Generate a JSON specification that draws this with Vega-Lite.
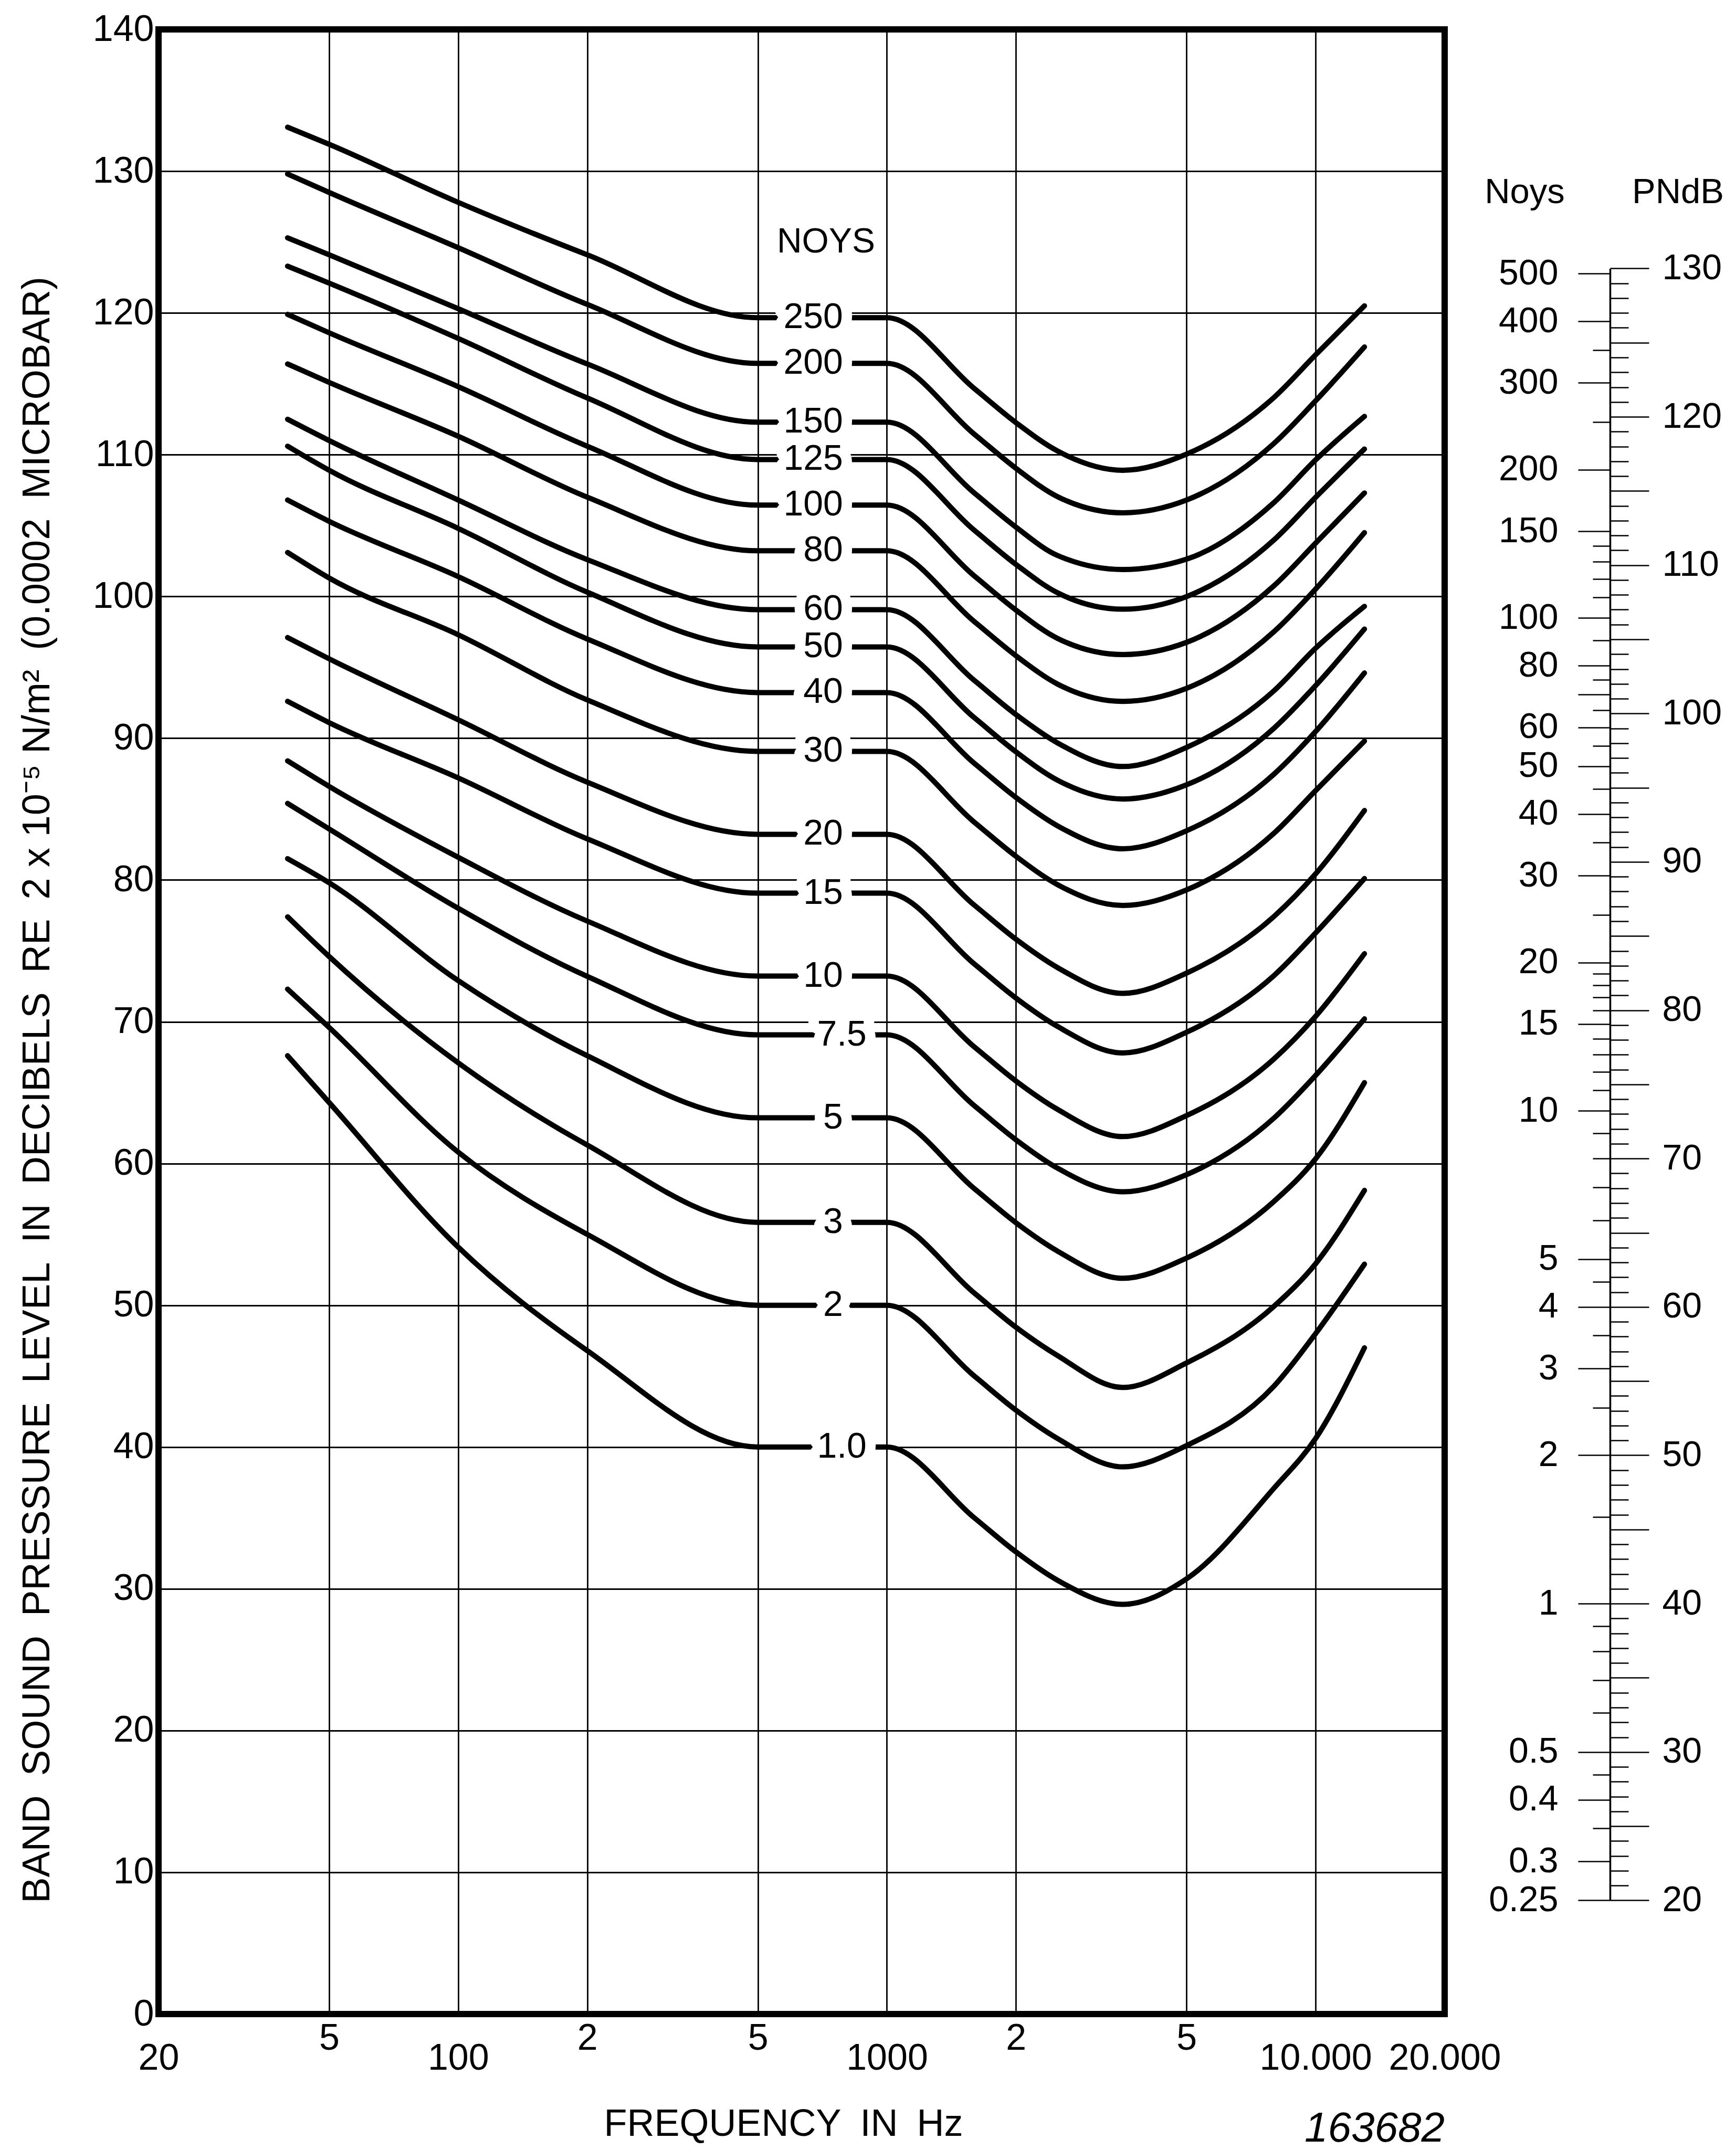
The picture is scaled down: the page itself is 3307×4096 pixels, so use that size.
{
  "$schema": "https://vega.github.io/schema/vega-lite/v6.json",
  "width": 2450,
  "height": 3781,
  "autosize": {"type": "none"},
  "padding": {"left": 302, "top": 56, "right": 555, "bottom": 259},
  "background": "white",
  "datasets": {
    "curves": [
      {"n":"250","f":40,"db":133.1},{"n":"250","f":50,"db":131.9},{"n":"250","f":100,"db":127.8},{"n":"250","f":200,"db":124.1},{"n":"250","f":500,"db":119.66},{"n":"250","f":1000,"db":119.66},{"n":"250","f":1600,"db":114.66},{"n":"250","f":2000,"db":112.26},{"n":"250","f":2500,"db":110.26},{"n":"250","f":3550,"db":108.9},{"n":"250","f":5000,"db":110.04},{"n":"250","f":8000,"db":114.04},{"n":"250","f":10000,"db":117.04},{"n":"250","f":13000,"db":120.5},
      {"n":"200","f":40,"db":129.8},{"n":"200","f":50,"db":128.5},{"n":"200","f":100,"db":124.6},{"n":"200","f":200,"db":120.6},{"n":"200","f":500,"db":116.44},{"n":"200","f":1000,"db":116.44},{"n":"200","f":1600,"db":111.44},{"n":"200","f":2000,"db":109.04},{"n":"200","f":2500,"db":107.04},{"n":"200","f":3550,"db":105.9},{"n":"200","f":5000,"db":106.8},{"n":"200","f":8000,"db":110.8},{"n":"200","f":10000,"db":113.8},{"n":"200","f":13000,"db":117.6},
      {"n":"150","f":40,"db":125.3},{"n":"150","f":50,"db":124.1},{"n":"150","f":100,"db":120.3},{"n":"150","f":200,"db":116.4},{"n":"150","f":500,"db":112.29},{"n":"150","f":1000,"db":112.29},{"n":"150","f":1600,"db":107.29},{"n":"150","f":2000,"db":104.89},{"n":"150","f":2500,"db":102.89},{"n":"150","f":3550,"db":101.9},{"n":"150","f":5000,"db":102.63},{"n":"150","f":8000,"db":106.63},{"n":"150","f":10000,"db":109.63},{"n":"150","f":13000,"db":112.7},
      {"n":"125","f":40,"db":123.3},{"n":"125","f":50,"db":122.1},{"n":"125","f":100,"db":118.2},{"n":"125","f":200,"db":114.0},{"n":"125","f":500,"db":109.66},{"n":"125","f":1000,"db":109.66},{"n":"125","f":1600,"db":104.66},{"n":"125","f":2000,"db":102.26},{"n":"125","f":2500,"db":100.26},{"n":"125","f":3550,"db":99.1},{"n":"125","f":5000,"db":99.99},{"n":"125","f":8000,"db":103.99},{"n":"125","f":10000,"db":106.99},{"n":"125","f":13000,"db":110.4},
      {"n":"100","f":40,"db":119.9},{"n":"100","f":50,"db":118.6},{"n":"100","f":100,"db":114.8},{"n":"100","f":200,"db":110.6},{"n":"100","f":500,"db":106.44},{"n":"100","f":1000,"db":106.44},{"n":"100","f":1600,"db":101.44},{"n":"100","f":2000,"db":99.04},{"n":"100","f":2500,"db":97.04},{"n":"100","f":3550,"db":95.9},{"n":"100","f":5000,"db":96.76},{"n":"100","f":8000,"db":100.76},{"n":"100","f":10000,"db":103.76},{"n":"100","f":13000,"db":107.3},
      {"n":"80","f":40,"db":116.4},{"n":"80","f":50,"db":115.1},{"n":"80","f":100,"db":111.3},{"n":"80","f":200,"db":107.0},{"n":"80","f":500,"db":103.22},{"n":"80","f":1000,"db":103.22},{"n":"80","f":1600,"db":98.22},{"n":"80","f":2000,"db":95.82},{"n":"80","f":2500,"db":93.82},{"n":"80","f":3550,"db":92.6},{"n":"80","f":5000,"db":93.52},{"n":"80","f":8000,"db":97.52},{"n":"80","f":10000,"db":100.52},{"n":"80","f":13000,"db":104.5},
      {"n":"60","f":40,"db":112.5},{"n":"60","f":50,"db":111.0},{"n":"60","f":100,"db":106.8},{"n":"60","f":200,"db":102.6},{"n":"60","f":500,"db":99.07},{"n":"60","f":1000,"db":99.07},{"n":"60","f":1600,"db":94.07},{"n":"60","f":2000,"db":91.67},{"n":"60","f":2500,"db":89.67},{"n":"60","f":3550,"db":88.0},{"n":"60","f":5000,"db":89.35},{"n":"60","f":8000,"db":93.35},{"n":"60","f":10000,"db":96.35},{"n":"60","f":13000,"db":99.3},
      {"n":"50","f":40,"db":110.6},{"n":"50","f":50,"db":108.9},{"n":"50","f":100,"db":104.8},{"n":"50","f":200,"db":100.3},{"n":"50","f":500,"db":96.44},{"n":"50","f":1000,"db":96.44},{"n":"50","f":1600,"db":91.44},{"n":"50","f":2000,"db":89.04},{"n":"50","f":2500,"db":87.04},{"n":"50","f":3550,"db":85.71},{"n":"50","f":5000,"db":86.71},{"n":"50","f":8000,"db":90.71},{"n":"50","f":10000,"db":93.71},{"n":"50","f":13000,"db":97.7},
      {"n":"40","f":40,"db":106.8},{"n":"40","f":50,"db":105.3},{"n":"40","f":100,"db":101.4},{"n":"40","f":200,"db":97.0},{"n":"40","f":500,"db":93.22},{"n":"40","f":1000,"db":93.22},{"n":"40","f":1600,"db":88.22},{"n":"40","f":2000,"db":85.82},{"n":"40","f":2500,"db":83.82},{"n":"40","f":3550,"db":82.2},{"n":"40","f":5000,"db":83.47},{"n":"40","f":8000,"db":87.47},{"n":"40","f":10000,"db":90.47},{"n":"40","f":13000,"db":94.6},
      {"n":"30","f":40,"db":103.1},{"n":"30","f":50,"db":101.3},{"n":"30","f":100,"db":97.3},{"n":"30","f":200,"db":92.7},{"n":"30","f":500,"db":89.07},{"n":"30","f":1000,"db":89.07},{"n":"30","f":1600,"db":84.07},{"n":"30","f":2000,"db":81.67},{"n":"30","f":2500,"db":79.67},{"n":"30","f":3550,"db":78.2},{"n":"30","f":5000,"db":79.3},{"n":"30","f":8000,"db":83.3},{"n":"30","f":10000,"db":86.3},{"n":"30","f":13000,"db":89.8},
      {"n":"20","f":40,"db":97.1},{"n":"20","f":50,"db":95.6},{"n":"20","f":100,"db":91.3},{"n":"20","f":200,"db":86.9},{"n":"20","f":500,"db":83.22},{"n":"20","f":1000,"db":83.22},{"n":"20","f":1600,"db":78.22},{"n":"20","f":2000,"db":75.82},{"n":"20","f":2500,"db":73.82},{"n":"20","f":3550,"db":72.0},{"n":"20","f":5000,"db":73.43},{"n":"20","f":8000,"db":77.43},{"n":"20","f":10000,"db":80.43},{"n":"20","f":13000,"db":84.9},
      {"n":"15","f":40,"db":92.6},{"n":"15","f":50,"db":91.1},{"n":"15","f":100,"db":87.2},{"n":"15","f":200,"db":82.9},{"n":"15","f":500,"db":79.07},{"n":"15","f":1000,"db":79.07},{"n":"15","f":1600,"db":74.07},{"n":"15","f":2000,"db":71.67},{"n":"15","f":2500,"db":69.67},{"n":"15","f":3550,"db":67.8},{"n":"15","f":5000,"db":69.26},{"n":"15","f":8000,"db":73.26},{"n":"15","f":10000,"db":76.26},{"n":"15","f":13000,"db":80.1},
      {"n":"10","f":40,"db":88.4},{"n":"10","f":50,"db":86.6},{"n":"10","f":100,"db":81.6},{"n":"10","f":200,"db":77.1},{"n":"10","f":500,"db":73.22},{"n":"10","f":1000,"db":73.22},{"n":"10","f":1600,"db":68.22},{"n":"10","f":2000,"db":65.82},{"n":"10","f":2500,"db":63.82},{"n":"10","f":3550,"db":61.9},{"n":"10","f":5000,"db":63.38},{"n":"10","f":8000,"db":67.38},{"n":"10","f":10000,"db":70.38},{"n":"10","f":13000,"db":74.8},
      {"n":"7.5","f":40,"db":85.4},{"n":"7.5","f":50,"db":83.6},{"n":"7.5","f":100,"db":78.0},{"n":"7.5","f":200,"db":73.2},{"n":"7.5","f":500,"db":69.07},{"n":"7.5","f":1000,"db":69.07},{"n":"7.5","f":1600,"db":64.07},{"n":"7.5","f":2000,"db":61.67},{"n":"7.5","f":2500,"db":59.67},{"n":"7.5","f":3550,"db":58.0},{"n":"7.5","f":5000,"db":59.21},{"n":"7.5","f":8000,"db":63.21},{"n":"7.5","f":10000,"db":66.21},{"n":"7.5","f":13000,"db":70.2},
      {"n":"5","f":40,"db":81.5},{"n":"5","f":50,"db":79.8},{"n":"5","f":100,"db":72.9},{"n":"5","f":200,"db":67.6},{"n":"5","f":500,"db":63.22},{"n":"5","f":1000,"db":63.22},{"n":"5","f":1600,"db":58.22},{"n":"5","f":2000,"db":55.82},{"n":"5","f":2500,"db":53.82},{"n":"5","f":3550,"db":51.9},{"n":"5","f":5000,"db":53.33},{"n":"5","f":8000,"db":57.33},{"n":"5","f":10000,"db":60.33},{"n":"5","f":13000,"db":65.7},
      {"n":"3","f":40,"db":77.4},{"n":"3","f":50,"db":74.6},{"n":"3","f":100,"db":67.1},{"n":"3","f":200,"db":61.3},{"n":"3","f":500,"db":55.85},{"n":"3","f":1000,"db":55.85},{"n":"3","f":1600,"db":50.85},{"n":"3","f":2000,"db":48.45},{"n":"3","f":2500,"db":46.45},{"n":"3","f":3550,"db":44.2},{"n":"3","f":5000,"db":45.93},{"n":"3","f":8000,"db":49.93},{"n":"3","f":10000,"db":52.93},{"n":"3","f":13000,"db":58.1},
      {"n":"2","f":40,"db":72.3},{"n":"2","f":50,"db":69.6},{"n":"2","f":100,"db":60.8},{"n":"2","f":200,"db":55.0},{"n":"2","f":500,"db":50.0},{"n":"2","f":1000,"db":50.0},{"n":"2","f":1600,"db":45.0},{"n":"2","f":2000,"db":42.6},{"n":"2","f":2500,"db":40.6},{"n":"2","f":3550,"db":38.6},{"n":"2","f":5000,"db":40.1},{"n":"2","f":8000,"db":44.3},{"n":"2","f":10000,"db":48.0},{"n":"2","f":13000,"db":52.9},
      {"n":"1.0","f":40,"db":67.6},{"n":"1.0","f":50,"db":64.3},{"n":"1.0","f":100,"db":54.1},{"n":"1.0","f":200,"db":46.8},{"n":"1.0","f":500,"db":40},{"n":"1.0","f":1000,"db":40},{"n":"1.0","f":1600,"db":35.0},{"n":"1.0","f":2000,"db":32.6},{"n":"1.0","f":2500,"db":30.6},{"n":"1.0","f":3550,"db":28.9},{"n":"1.0","f":5000,"db":30.7},{"n":"1.0","f":8000,"db":37.1},{"n":"1.0","f":10000,"db":40.6},{"n":"1.0","f":13000,"db":47.0}
    ]
  },
  "data": {"name": "curves"},
  "resolve": {"scale": {"x": "independent", "y": "independent"}, "axis": {"x": "independent", "y": "independent"}},
  "layer": [
    {
      "mark": {"type": "line", "interpolate": "monotone", "color": "black", "strokeWidth": 10, "strokeCap": "round", "strokeJoin": "round"},
      "encoding": {
        "x": {
          "field": "f", "type": "quantitative",
          "scale": {"type": "log", "domain": [20, 20000], "nice": false},
          "axis": {
            "orient": "bottom",
            "values": [20, 50, 100, 200, 500, 1000, 2000, 5000, 10000, 20000],
            "labelExpr": "datum.value == 20 ? ['', '20'] : datum.value == 100 ? ['', '100'] : datum.value == 1000 ? ['', '1000'] : datum.value == 10000 ? ['', '10.000'] : datum.value == 20000 ? ['', '20.000'] : (datum.value == 50 || datum.value == 500 || datum.value == 5000) ? '5' : '2'",
            "labelLineHeight": 38,
            "labelPadding": 12,
            "labelLimit": 600,
            "labelFont": "Liberation Sans",
            "labelFontSize": 70,
            "labelColor": "black",
            "labelOverlap": false,
            "labelFlush": false,
            "ticks": false,
            "domain": false,
            "grid": true,
            "gridColor": "black",
            "gridWidth": 2.8,
            "gridOpacity": 1,
            "title": "FREQUENCY\u2002IN\u2002Hz",
            "titleFont": "Liberation Sans",
            "titleFontSize": 72,
            "titleFontWeight": "normal",
            "titleColor": "black",
            "titleX": 1190,
            "titleY": 209,
            "titleAlign": "center",
            "titleBaseline": "middle"
          }
        },
        "y": {
          "field": "db", "type": "quantitative",
          "scale": {"domain": [0, 140], "nice": false, "zero": false},
          "axis": {
            "orient": "left",
            "values": [0, 10, 20, 30, 40, 50, 60, 70, 80, 90, 100, 110, 120, 130, 140],
            "grid": true,
            "gridColor": "black",
            "gridWidth": 2.8,
            "gridOpacity": 1,
            "ticks": false,
            "domain": false,
            "labelPadding": 9,
            "labelFont": "Liberation Sans",
            "labelFontSize": 70,
            "labelColor": "black",
            "labelOverlap": false,
            "title": "BAND\u2002SOUND\u2002PRESSURE\u2002LEVEL\u2002IN\u2002DECIBELS\u2002RE\u20022 x 10\u207B\u2075 N/m\u00B2\u2002(0.0002\u2002MICROBAR)",
            "titleFont": "Liberation Sans",
            "titleFontSize": 74,
            "titleFontWeight": "normal",
            "titleColor": "black",
            "titleAngle": -90,
            "titleX": -231,
            "titleY": 2020,
            "titleAlign": "center",
            "titleBaseline": "middle",
            "titleLimit": 4000
          }
        },
        "detail": {"field": "n"}
      }
    },
    {
      "transform": [{"filter": "datum.f == 1000 && indexof(datum.n, '.') < 0"}],
      "mark": {"type": "text", "align": "right", "baseline": "middle", "font": "Liberation Sans", "fontSize": 68, "color": "white", "stroke": "white", "strokeWidth": 40, "strokeJoin": "round"},
      "encoding": {
        "x": {"datum": 790, "scale": {"type": "log", "domain": [20, 20000], "nice": false}, "axis": null},
        "y": {"field": "db", "type": "quantitative", "scale": {"domain": [0, 140], "nice": false, "zero": false}, "axis": null},
        "text": {"field": "n"}
      }
    },
    {
      "transform": [{"filter": "datum.f == 1000 && indexof(datum.n, '.') >= 0"}],
      "mark": {"type": "text", "align": "right", "baseline": "middle", "font": "Liberation Sans", "fontSize": 68, "color": "white", "stroke": "white", "strokeWidth": 40, "strokeJoin": "round"},
      "encoding": {
        "x": {"datum": 897, "scale": {"type": "log", "domain": [20, 20000], "nice": false}, "axis": null},
        "y": {"field": "db", "type": "quantitative", "scale": {"domain": [0, 140], "nice": false, "zero": false}, "axis": null},
        "text": {"field": "n"}
      }
    },
    {
      "transform": [{"filter": "datum.f == 1000 && indexof(datum.n, '.') < 0"}],
      "mark": {"type": "text", "align": "right", "baseline": "middle", "font": "Liberation Sans", "fontSize": 68, "color": "black"},
      "encoding": {
        "x": {"datum": 790, "scale": {"type": "log", "domain": [20, 20000], "nice": false}, "axis": null},
        "y": {"field": "db", "type": "quantitative", "scale": {"domain": [0, 140], "nice": false, "zero": false}, "axis": null},
        "text": {"field": "n"}
      }
    },
    {
      "transform": [{"filter": "datum.f == 1000 && indexof(datum.n, '.') >= 0"}],
      "mark": {"type": "text", "align": "right", "baseline": "middle", "font": "Liberation Sans", "fontSize": 68, "color": "black"},
      "encoding": {
        "x": {"datum": 897, "scale": {"type": "log", "domain": [20, 20000], "nice": false}, "axis": null},
        "y": {"field": "db", "type": "quantitative", "scale": {"domain": [0, 140], "nice": false, "zero": false}, "axis": null},
        "text": {"field": "n"}
      }
    },
    {
      "data": {"values": [{"t": "NOYS"}]},
      "mark": {"type": "text", "align": "center", "baseline": "middle", "font": "Liberation Sans", "fontSize": 66, "color": "black"},
      "encoding": {
        "x": {"datum": 721, "scale": {"type": "log", "domain": [20, 20000], "nice": false}, "axis": null},
        "y": {"datum": 125, "scale": {"domain": [0, 140], "nice": false, "zero": false}, "axis": null},
        "text": {"field": "t"}
      }
    },
    {
      "data": {"values": [{"t": "163682"}]},
      "mark": {"type": "text", "align": "right", "baseline": "middle", "font": "Liberation Sans", "fontStyle": "italic", "fontSize": 80, "color": "black"},
      "encoding": {
        "x": {"datum": 20000, "scale": {"type": "log", "domain": [20, 20000], "nice": false}, "axis": null},
        "y": {"datum": -8.1, "scale": {"domain": [0, 140], "nice": false, "zero": false}, "axis": null},
        "text": {"field": "t"}
      }
    },
    {
      "data": {"values": [{"v": 1}]},
      "mark": {"type": "point", "opacity": 0},
      "encoding": {
        "y": {
          "field": "v", "type": "quantitative",
          "scale": {"type": "log", "domain": [0.25, 512], "range": [3564.4, 455.4], "nice": false},
          "axis": {
            "orient": "left", "offset": -2765,
            "values": [0.25, 0.3, 0.4, 0.5, 1, 2, 3, 4, 5, 10, 15, 20, 30, 40, 50, 60, 70, 80, 100, 150, 200, 300, 400, 500],
            "labelExpr": "datum.value == 70 ? '' : format(datum.value, '~g')",
            "tickSize": 61, "tickWidth": 2.6, "tickColor": "black",
            "labelPadding": 38, "labelFont": "Liberation Sans", "labelFontSize": 68, "labelColor": "black",
            "labelOverlap": false, "labelFlush": false,
            "domain": false, "grid": false,
            "title": "Noys", "titleAngle": 0, "titleX": -163, "titleY": 310, "titleAlign": "center", "titleBaseline": "middle",
            "titleFont": "Liberation Sans", "titleFontSize": 67, "titleFontWeight": "normal", "titleColor": "black"
          }
        }
      }
    },
    {
      "data": {"values": [{"v": 1}]},
      "mark": {"type": "point", "opacity": 0},
      "encoding": {
        "y": {
          "field": "v", "type": "quantitative",
          "scale": {"type": "log", "domain": [0.25, 512], "range": [3564.4, 455.4], "nice": false},
          "axis": {
            "orient": "left", "offset": -2765,
            "values": [0.35, 0.45, 0.6, 0.7, 0.8, 0.9, 1.5, 2.5, 3.5, 4.5, 6, 7, 8, 9, 11, 12, 13, 14, 16, 17, 18, 19, 25, 35, 45, 55, 65, 75, 90, 110, 120, 130, 140, 250, 350],
            "tickSize": 33, "tickWidth": 2.6, "tickColor": "black",
            "labels": false, "domain": false, "grid": false, "title": null
          }
        }
      }
    },
    {
      "data": {"values": [{"v": 40}]},
      "mark": {"type": "point", "opacity": 0},
      "encoding": {
        "y": {
          "field": "v", "type": "quantitative",
          "scale": {"domain": [20, 130], "range": [3564.4, 455.4], "nice": false, "zero": false},
          "axis": {
            "orient": "right", "offset": 315,
            "values": [20, 25, 30, 35, 40, 45, 50, 55, 60, 65, 70, 75, 80, 85, 90, 95, 100, 105, 110, 115, 120, 125, 130],
            "labelExpr": "datum.value % 10 == 0 ? datum.label : ''",
            "tickSize": 74, "tickWidth": 2.6, "tickColor": "black",
            "labelPadding": 25, "labelFont": "Liberation Sans", "labelFontSize": 68, "labelColor": "black",
            "labelOverlap": false, "labelFlush": false,
            "domain": true, "domainColor": "black", "domainWidth": 3.5,
            "grid": false,
            "title": "PNdB", "titleAngle": 0, "titleX": 129, "titleY": 310, "titleAlign": "center", "titleBaseline": "middle",
            "titleFont": "Liberation Sans", "titleFontSize": 67, "titleFontWeight": "normal", "titleColor": "black"
          }
        }
      }
    },
    {
      "data": {"values": [{"v": 40}]},
      "mark": {"type": "point", "opacity": 0},
      "encoding": {
        "y": {
          "field": "v", "type": "quantitative",
          "scale": {"domain": [20, 130], "range": [3564.4, 455.4], "nice": false, "zero": false},
          "axis": {
            "orient": "right", "offset": 315,
            "values": [21,22,23,24,26,27,28,29,31,32,33,34,36,37,38,39,41,42,43,44,46,47,48,49,51,52,53,54,56,57,58,59,61,62,63,64,66,67,68,69,71,72,73,74,76,77,78,79,81,82,83,84,86,87,88,89,91,92,93,94,96,97,98,99,101,102,103,104,106,107,108,109,111,112,113,114,116,117,118,119,121,122,123,124,126,127,128,129],
            "tickSize": 35, "tickWidth": 2.6, "tickColor": "black",
            "labels": false, "domain": false, "grid": false, "title": null
          }
        }
      }
    }
  ],
  "config": {
    "view": {"stroke": "black", "strokeWidth": 12},
    "axis": {"labelColor": "black", "titleColor": "black"}
  }
}
